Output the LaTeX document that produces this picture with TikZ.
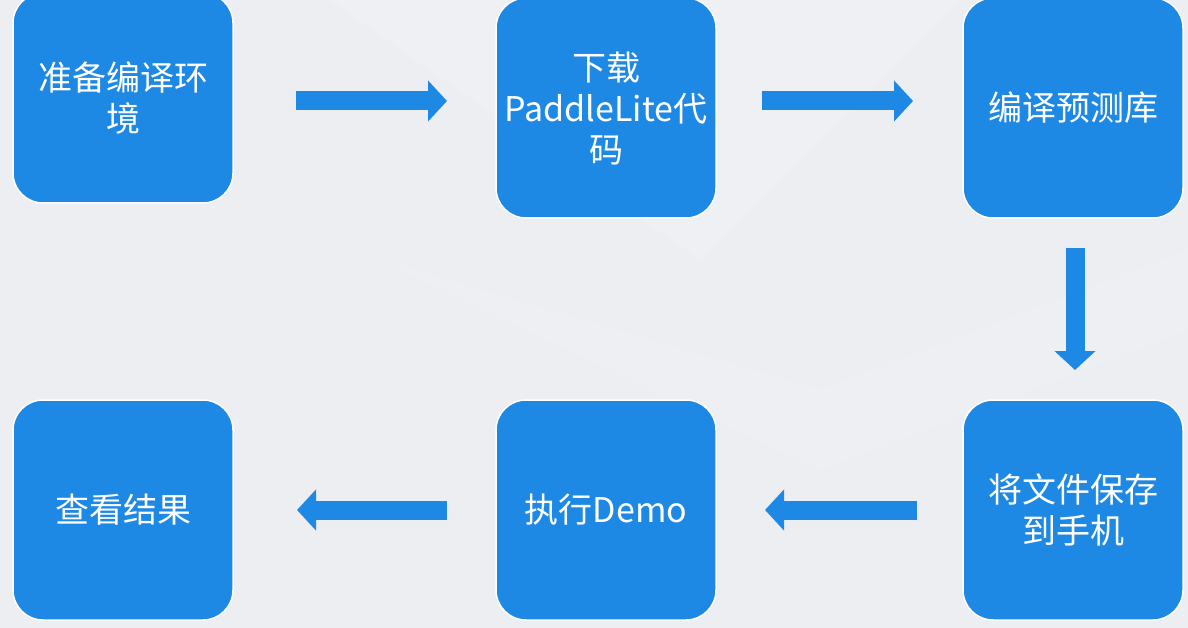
\documentclass[tikz,border=0pt]{standalone}
\usepackage{fontspec}
\newfontfamily\cjk{Noto Sans CJK SC}
\usepackage{tikz}
\usetikzlibrary{arrows.meta, positioning}
\definecolor{stepblue}{RGB}{30, 136, 229}
\definecolor{pagegray}{RGB}{236, 238, 242}

\begin{document}
\begin{tikzpicture}[
    x=1pt, y=-1pt,
    stepbox/.style={rectangle, draw=white, line width=1.5pt, fill=stepblue, rounded corners=30pt, minimum width=220pt, minimum height=220pt, outer sep=0pt, text=white, align=center, font=\cjk\fontsize{34}{41}\selectfont},
    flow/.style={draw=stepblue, line width=19pt, -{Triangle[length=19pt, width=40pt]}},
]
    % background
    \fill[pagegray] (0,0) rectangle (1188,628);
    \useasboundingbox (0,0) rectangle (1188,628);
    \begin{scope}
    \clip (0,0) rectangle (1188,628);
    \fill[white, opacity=0.12] (330,0) -- (700,260) -- (960,0) -- cycle;
    \fill[white, opacity=0.1] (380,260) -- (820,390) -- (1188,250) -- (1188,330) -- (820,470) -- cycle;

    \node[stepbox, minimum height=210pt] (prep) at (123,98) {准备编译环\\境};
    \node[stepbox] (down) at (606,108) {下载\\PaddleLite代\\码};
    \node[stepbox] (build) at (1073,108) {编译预测库};
    \node[stepbox] (save) at (1073,510) {将文件保存\\到手机};
    \node[stepbox] (run) at (606,510) {执行Demo};
    \node[stepbox] (view) at (123,510) {查看结果};
    \end{scope}

    \coordinate (row1) at (0,101);

    \draw[flow, shorten <=63pt, shorten >=49pt] (prep.east |- row1) -- (down.west |- row1);
    \draw[flow, shorten <=46pt, shorten >=50pt] (down.east |- row1) -- (build.west |- row1);
    \draw[flow, shorten <=30pt, shorten >=30pt] ([xshift=2pt]build.south) -- ([xshift=2pt]save.north);
    \draw[flow, shorten <=46pt, shorten >=49pt] (save) -- (run);
    \draw[flow, shorten <=49pt, shorten >=64pt] (run) -- (view);
\end{tikzpicture}
\end{document}
